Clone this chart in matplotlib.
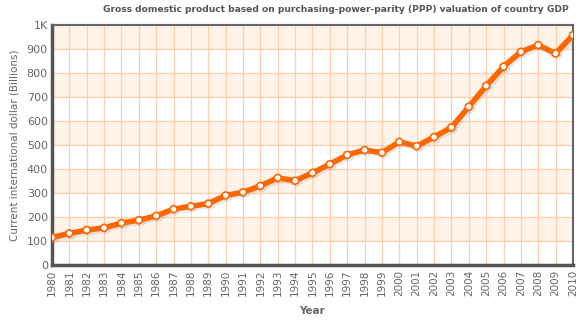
import numpy as np
import matplotlib.pyplot as plt
import matplotlib.patheffects as pe

# data
years = list(range(1980, 2011))
gdp = [116, 133, 147, 156, 176, 188, 206, 234, 246, 257,
       291, 304, 331, 364, 352, 385, 421, 460, 480, 469,
       514, 496, 534, 574, 660, 747, 827, 889, 917, 882, 958]
y_ticks = [0, 100, 200, 300, 400, 500, 600, 700, 800, 900, 1000]
y_labels = ["0", "100", "200", "300", "400", "500", "600", "700", "800", "900", "1K"]

txt = "#666666"

fig = plt.figure(figsize=(5.83, 3.22), dpi=100)
ax = fig.add_axes([0.0892, 0.176, 0.8936, 0.746])

# alternating bands
for lo in range(100, 1000, 200):
    ax.axhspan(lo, lo + 100, color="#fff3ea", zorder=0, lw=0)

for v in y_ticks:
    ax.axhline(v, color="#ffcdac", lw=0.9, zorder=1)
for yr in years:
    ax.axvline(yr, color="#ffcdac", lw=0.9, zorder=1)

ax.plot(years, gdp, color="#ff6600", lw=4, zorder=3,
        marker="o", markersize=5, markerfacecolor="white",
        markeredgecolor="#ff6600", markeredgewidth=1.2,
        solid_joinstyle="round",
        path_effects=[pe.SimpleLineShadow(offset=(1.5, -1.5), shadow_color="#999999", alpha=0.2),
                      pe.Normal()])

ax.set_xlim(1980, 2010)
ax.set_ylim(0, 1000)
ax.set_xticks(years)
ax.set_xticklabels([str(y) for y in years], rotation=90, fontsize=7.5, color=txt)
ax.set_yticks(y_ticks)
ax.set_yticklabels(y_labels, fontsize=8, color=txt)
ax.tick_params(length=0, pad=3)

for side in ["left", "bottom"]:
    ax.spines[side].set_color("#555555")
    ax.spines[side].set_linewidth(2.5)
for side in ["right", "top"]:
    ax.spines[side].set_color("#666666")
    ax.spines[side].set_linewidth(1.5)

fig.text(312 / 583, 1 - 311 / 322, "Year", ha="center", va="center",
         fontsize=7.5, fontweight="bold", color=txt)
fig.text(15 / 583, 0.55, "Current international dollar (Billions)", rotation=90,
         ha="center", va="center", fontsize=7.5, color=txt)
fig.text(336 / 583, 1 - 9 / 322, "Gross domestic product based on purchasing-power-parity (PPP) valuation of country GDP",
         ha="center", va="center", fontsize=6.6, fontweight="bold", color="#555555")

fig.savefig("out.png", dpi=100)
